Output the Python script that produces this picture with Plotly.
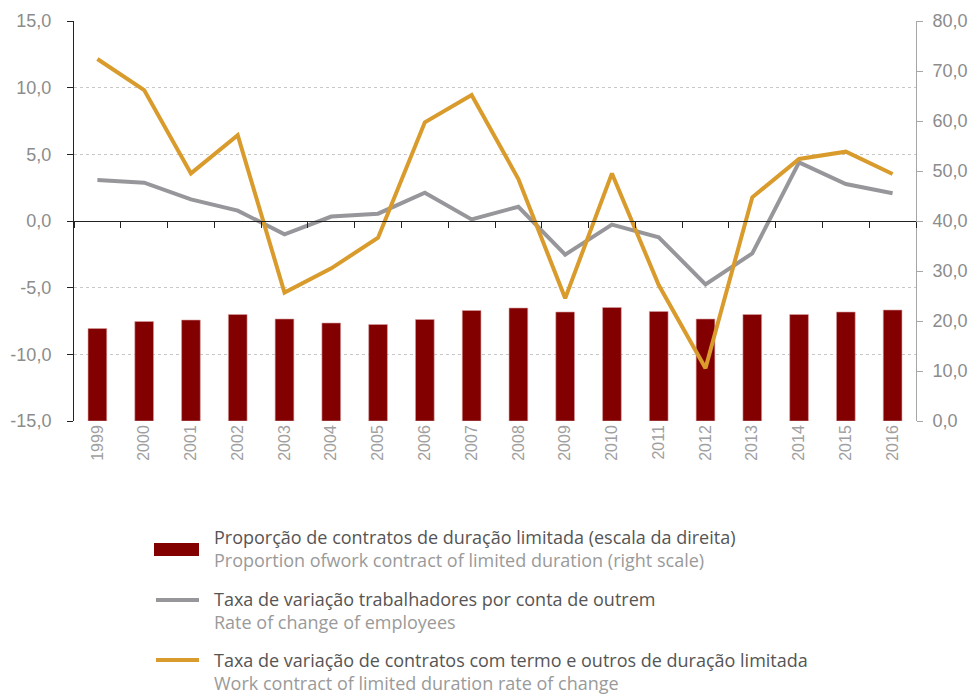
import plotly.graph_objects as go

years = ["1999", "2000", "2001", "2002", "2003", "2004", "2005", "2006", "2007",
         "2008", "2009", "2010", "2011", "2012", "2013", "2014", "2015", "2016"]
share_limited = [18.5, 19.9, 20.2, 21.3, 20.4, 19.6, 19.3, 20.3, 22.1,
                 22.6, 21.8, 22.7, 21.9, 20.4, 21.3, 21.3, 21.8, 22.2]
rate_employees = [3.07, 2.87, 1.62, 0.78, -1.0, 0.33, 0.55, 2.12, 0.12,
                  1.07, -2.52, -0.27, -1.22, -4.75, -2.43, 4.4, 2.77, 2.08]
rate_limited = [12.15, 9.82, 3.57, 6.43, -5.37, -3.55, -1.25, 7.4, 9.45,
                3.15, -5.8, 3.57, -4.8, -11.05, 1.78, 4.65, 5.2, 3.52]

left_tickvals = [-15, -10, -5, 0, 5, 10, 15]
left_ticktext = ["-15,0", "-10,0", "-5,0", "0,0", "5,0", "10,0", "15,0"]
right_tickvals = [0, 10, 20, 30, 40, 50, 60, 70, 80]
right_ticktext = ["0,0", "10,0", "20,0", "30,0", "40,0", "50,0", "60,0", "70,0", "80,0"]

legend_pt = ["Proporção de contratos de duração limitada (escala da direita)",
             "Taxa de variação trabalhadores por conta de outrem",
             "Taxa de variação de contratos com termo e outros de duração limitada"]
legend_en = ["Proportion ofwork contract of limited duration (right scale)",
             "Rate of change of employees",
             "Work contract of limited duration rate of change"]

BAR = "#820000"
GRAY = "#97979b"
ORANGE = "#d89b2c"
TICK = "#8c8c8c"
FONT = "Liberation Sans, Arial, sans-serif"
LFONT = "Open Sans, sans-serif"

# page body adds an 8px offset; compensate so the plot area sits at x 74-916, y 21-421 on screen
OFF = 8
PL, PT, PW, PH = 74 - OFF, 21 - OFF, 842, 400

fig = go.Figure()
fig.add_trace(go.Bar(x=years, y=share_limited, marker=dict(color=BAR, line=dict(color="#d9a0a0", width=0.6)),
                     xaxis="x", yaxis="y", name=legend_pt[0], showlegend=False))
fig.add_trace(go.Scatter(x=years, y=rate_employees, mode="lines", line=dict(color=GRAY, width=4),
                         xaxis="x2", yaxis="y2", name=legend_pt[1], showlegend=False))
fig.add_trace(go.Scatter(x=years, y=rate_limited, mode="lines", line=dict(color=ORANGE, width=4),
                         xaxis="x2", yaxis="y2", name=legend_pt[2], showlegend=False))

fig.update_layout(
    width=980, height=694,
    margin=dict(l=PL, r=980 - PL - PW, t=PT, b=694 - PT - PH, autoexpand=False),
    plot_bgcolor="white", paper_bgcolor="white",
    separators=",.",
    bargap=0.6,
    font=dict(family=FONT, color=TICK),
    showlegend=False,
    xaxis=dict(type="category", categoryorder="array", categoryarray=years, range=[-0.5, 17.5],
               showgrid=False, showline=False, ticks="", tickangle=-90, automargin=False,
               tickfont=dict(size=16, color="#a0a0a0"), zeroline=False),
    xaxis2=dict(type="category", categoryorder="array", categoryarray=years, range=[-0.5, 17.5],
                overlaying="x", anchor="free", position=0.5, showgrid=False, automargin=False,
                showline=True, linecolor="#222222", linewidth=1.2,
                ticks="outside", tickson="boundaries", ticklen=6, tickcolor="#222222",
                showticklabels=False, zeroline=False),
    yaxis=dict(side="right", range=[0, 80], tickmode="array", tickvals=right_tickvals,
               ticktext=right_ticktext, showgrid=False, automargin=False,
               showline=True, linecolor="#a6a6a6", ticks="outside", ticklen=6, tickcolor="#a6a6a6",
               tickfont=dict(size=18, color=TICK), zeroline=False, ticklabelstandoff=6),
    yaxis2=dict(side="left", overlaying="y", range=[-15, 15], tickmode="array",
                tickvals=left_tickvals, ticktext=left_ticktext, automargin=False,
                showgrid=True, gridcolor="#c8c8c8", griddash="dot", gridwidth=1,
                showline=True, linecolor="#222222", ticks="outside", ticklen=6, tickcolor="#222222",
                tickfont=dict(size=18, color=TICK), zeroline=False, ticklabelstandoff=12),
)

# custom legend (screen coordinates converted to plot-area fractions)
def fx(x):
    return (x - 74) / PW

def fy(y):
    return (421 - y) / PH

legend_sym_y = [549, 600, 660]
line1_y = [537, 599, 660]
for i in range(3):
    if i == 0:
        fig.add_shape(type="rect", xref="paper", yref="paper",
                      x0=fx(154), x1=fx(199), y0=fy(556), y1=fy(543),
                      fillcolor=BAR, line=dict(width=0))
    else:
        fig.add_shape(type="line", xref="paper", yref="paper",
                      x0=fx(156), x1=fx(199), y0=fy(legend_sym_y[i]), y1=fy(legend_sym_y[i]),
                      line=dict(color=[None, GRAY, ORANGE][i], width=4))
    fig.add_annotation(xref="paper", yref="paper", x=fx(212), y=fy(line1_y[i]),
                       xanchor="left", yanchor="middle", showarrow=False, text=legend_pt[i],
                       font=dict(size=18, color="#555555", family=LFONT))
    fig.add_annotation(xref="paper", yref="paper", x=fx(212), y=fy(line1_y[i] + 23),
                       xanchor="left", yanchor="middle", showarrow=False, text=legend_en[i],
                       font=dict(size=18, color="#9a9a9a", family=LFONT))

fig.write_html("out.html")
